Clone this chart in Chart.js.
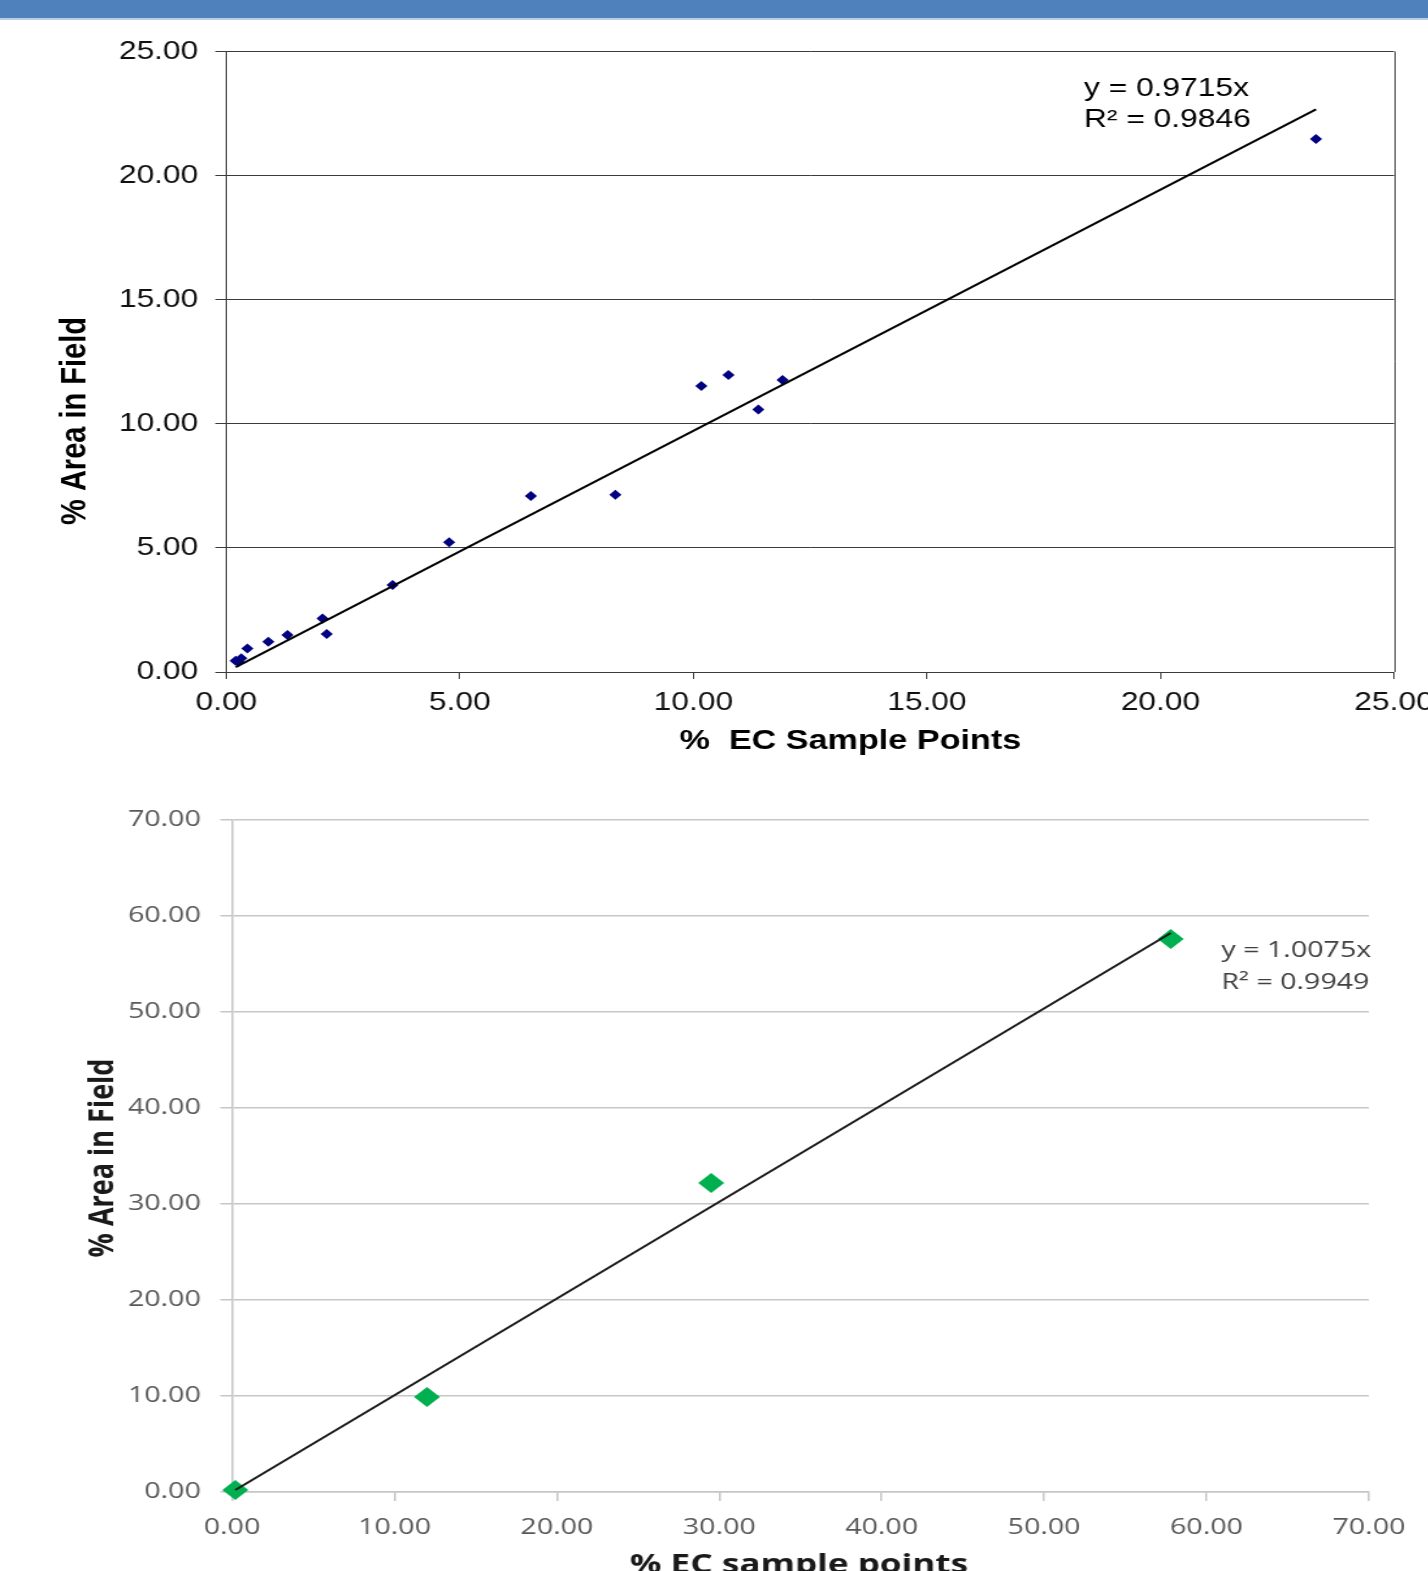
<!DOCTYPE html>
<html>
<head>
<meta charset="utf-8">
<title>% Area in Field vs % EC Sample Points</title>
<script src="https://cdn.jsdelivr.net/npm/chart.js@4.4.1/dist/chart.umd.min.js"></script>
<style>
  html, body { margin: 0; padding: 0; background: #fff; width: 1428px; height: 1571px; overflow: hidden; }
  .top-bar { position: absolute; left: 0; top: 0; width: 1428px; height: 18px; background: #4f81bd; border-bottom: 2px solid #b8cce4; }
  .wrap { position: absolute; left: 0; transform-origin: 0 0; }
  /* the source picture is stretched sideways, so each chart is drawn narrower and stretched back */
  #wrapTop { top: 20px; transform: scaleX(1.22); }
  #wrapBottom { top: 770px; transform: scaleX(1.3); }
</style>
</head>
<body>
<div class="top-bar"></div>
<div class="wrap" id="wrapTop"><canvas id="chartTop" width="1171" height="745"></canvas></div>
<div class="wrap" id="wrapBottom"><canvas id="chartBottom" width="1099" height="801"></canvas></div>

<script>
// ---- top chart data ----
const ecSampleTop = [0.20, 0.26, 0.32, 0.45, 0.90, 1.31, 2.06, 2.15, 3.56, 4.77, 6.52, 8.33, 10.17, 10.75, 11.39, 11.91, 23.33];
const areaFieldTop = [0.45, 0.40, 0.55, 0.95, 1.22, 1.49, 2.16, 1.53, 3.51, 5.23, 7.09, 7.14, 11.52, 11.97, 10.58, 11.76, 21.47];
const slopeTop = 0.9715;
const rSquaredTop = 0.9846;
const ticksTop = [0, 5, 10, 15, 20, 25];

// ---- bottom chart data ----
const ecSampleBottom = [0.2, 12.0, 29.5, 57.8];
const areaFieldBottom = [0.2, 9.9, 32.2, 57.6];
const slopeBottom = 1.0075;
const rSquaredBottom = 0.9949;
const ticksBottom = [0, 10, 20, 30, 40, 50, 60, 70];

// trendline through the origin, drawn over the range of the x values
function trendPoints(xs, slope) {
  const lo = Math.min(...xs), hi = Math.max(...xs);
  return [{ x: lo, y: slope * lo }, { x: hi, y: slope * hi }];
}

function zipPoints(xs, ys) {
  return xs.map((x, i) => ({ x: x, y: ys[i] }));
}

// extra texts (axis titles, equation) and the right-hand frame line
function extrasPlugin(cfg) {
  return {
    id: 'extras',
    afterDraw(chart) {
      const ctx = chart.ctx;
      const a = chart.chartArea;
      ctx.save();
      if (cfg.frameColor) {
        ctx.strokeStyle = cfg.frameColor;
        ctx.lineWidth = 1;
        const xr = Math.round(a.right) + 0.5;
        ctx.beginPath();
        ctx.moveTo(xr, a.top);
        ctx.lineTo(xr, a.bottom);
        ctx.stroke();
      }
      ctx.fillStyle = cfg.titleColor;
      ctx.font = cfg.titleFont;
      ctx.textAlign = 'center';
      ctx.textBaseline = 'middle';
      ctx.fillText(cfg.xTitle, cfg.xTitlePos[0], cfg.xTitlePos[1]);
      ctx.save();
      ctx.translate(cfg.yTitlePos[0], cfg.yTitlePos[1]);
      ctx.rotate(-Math.PI / 2);
      ctx.font = cfg.yTitleFont;
      ctx.fillText(cfg.yTitle, 0, 0);
      ctx.restore();
      ctx.fillStyle = cfg.eqColor;
      ctx.font = cfg.eqFont;
      ctx.textAlign = 'left';
      cfg.eqLines.forEach((line, i) => {
        ctx.fillText(line, cfg.eqPos[0], cfg.eqPos[1] + i * cfg.eqGap);
      });
      ctx.restore();
    }
  };
}

// ---------------- top chart ----------------
const topFont = { family: '"Liberation Sans", Arial, sans-serif', size: 26 };
const topLine = '#3a3a3a';

new Chart(document.getElementById('chartTop'), {
  type: 'scatter',
  data: {
    datasets: [
      {
        label: 'Trend',
        data: trendPoints(ecSampleTop, slopeTop),
        showLine: true,
        borderColor: '#000000',
        borderWidth: 2,
        pointRadius: 0,
        clip: false
      },
      {
        label: '% Area in Field',
        data: zipPoints(ecSampleTop, areaFieldTop),
        pointStyle: 'rectRot',
        pointRadius: 5,
        pointBackgroundColor: '#000080',
        pointBorderColor: '#000080',
        pointBorderWidth: 0,
        clip: false
      }
    ]
  },
  options: {
    responsive: false,
    devicePixelRatio: 1,
    animation: false,
    layout: { padding: { left: 0, right: 28.4, top: 31.5, bottom: 0 } },
    plugins: { legend: { display: false }, tooltip: { enabled: false } },
    scales: {
      x: {
        type: 'linear',
        min: 0,
        max: 25,
        afterBuildTicks: s => { s.ticks = ticksTop.map(v => ({ value: v })); },
        afterFit: s => { s.height = 93; s.paddingLeft = 0; s.paddingRight = 0; },
        ticks: { font: topFont, color: '#111111', padding: 8, maxRotation: 0, autoSkip: false,
                 callback: v => Number(v).toFixed(2) },
        grid: { drawOnChartArea: false, drawTicks: true, tickLength: 7, color: topLine, lineWidth: 1 },
        border: { display: true, color: topLine, width: 1 }
      },
      y: {
        type: 'linear',
        min: 0,
        max: 25,
        afterBuildTicks: s => { s.ticks = ticksTop.map(v => ({ value: v })); },
        afterFit: s => { s.width = 185.5; s.paddingTop = 0; s.paddingBottom = 0; },
        ticks: { font: topFont, color: '#111111', padding: 14,
                 callback: v => Number(v).toFixed(2) },
        grid: { color: topLine, lineWidth: 1, drawTicks: true, tickLength: 9 },
        border: { display: true, color: topLine, width: 1 }
      }
    }
  },
  plugins: [extrasPlugin({
    frameColor: topLine,
    titleColor: '#000000',
    titleFont: 'bold 28px "Liberation Sans", Arial, sans-serif',
    yTitleFont: 'bold 29px "Liberation Sans", Arial, sans-serif',
    xTitle: '%  EC Sample Points',
    xTitlePos: [697, 721],
    yTitle: '% Area in Field',
    yTitlePos: [62.3, 401],
    eqColor: '#000000',
    eqFont: '26px "Liberation Sans", Arial, sans-serif',
    eqLines: ['y = ' + slopeTop + 'x', 'R² = ' + rSquaredTop],
    eqPos: [888.5, 69],
    eqGap: 31
  })]
});

// ---------------- bottom chart ----------------
const bottomFont = { family: '"Open Sans", sans-serif', size: 22 };
const bottomGrid = '#c6c6c6';

new Chart(document.getElementById('chartBottom'), {
  type: 'scatter',
  data: {
    datasets: [
      {
        label: 'Trend',
        data: trendPoints(ecSampleBottom, slopeBottom),
        showLine: true,
        borderColor: '#1a1a1a',
        borderWidth: 2,
        pointRadius: 0,
        clip: false
      },
      {
        label: '% Area in Field',
        data: zipPoints(ecSampleBottom, areaFieldBottom),
        pointStyle: 'rectRot',
        pointRadius: 10,
        pointBackgroundColor: '#00b050',
        pointBorderColor: '#00b050',
        pointBorderWidth: 0,
        clip: false
      }
    ]
  },
  options: {
    responsive: false,
    devicePixelRatio: 1,
    animation: false,
    layout: { padding: { left: 0, right: 46, top: 50, bottom: 0 } },
    plugins: { legend: { display: false }, tooltip: { enabled: false } },
    scales: {
      x: {
        type: 'linear',
        min: 0,
        max: 70,
        afterBuildTicks: s => { s.ticks = ticksBottom.map(v => ({ value: v })); },
        afterFit: s => { s.height = 79; s.paddingLeft = 0; s.paddingRight = 0; },
        ticks: { font: bottomFont, color: '#595959', padding: 14, maxRotation: 0, autoSkip: false,
                 callback: v => Number(v).toFixed(2) },
        grid: { drawOnChartArea: false, drawTicks: true, tickLength: 9, color: bottomGrid, lineWidth: 1.5 },
        border: { display: true, color: bottomGrid, width: 1.5 }
      },
      y: {
        type: 'linear',
        min: 0,
        max: 70,
        afterBuildTicks: s => { s.ticks = ticksBottom.map(v => ({ value: v })); },
        afterFit: s => { s.width = 178.5; s.paddingTop = 0; s.paddingBottom = 0; },
        ticks: { font: bottomFont, color: '#595959', padding: 15,
                 callback: v => Number(v).toFixed(2) },
        grid: { color: bottomGrid, lineWidth: 1.5, drawTicks: true, tickLength: 9 },
        border: { display: true, color: bottomGrid, width: 1.5 }
      }
    }
  },
  plugins: [extrasPlugin({
    frameColor: null,
    titleColor: '#1a1a1a',
    titleFont: 'bold 27px "Open Sans", sans-serif',
    yTitleFont: 'bold 27px "Open Sans", sans-serif',
    xTitle: '% EC sample points',
    xTitlePos: [614.6, 795],
    yTitle: '% Area in Field',
    yTitlePos: [79, 388],
    eqColor: '#404040',
    eqFont: '22px "Open Sans", sans-serif',
    eqLines: ['y = ' + slopeBottom + 'x', 'R² = ' + rSquaredBottom],
    eqPos: [939.5, 181],
    eqGap: 32
  })]
});
</script>
</body>
</html>
